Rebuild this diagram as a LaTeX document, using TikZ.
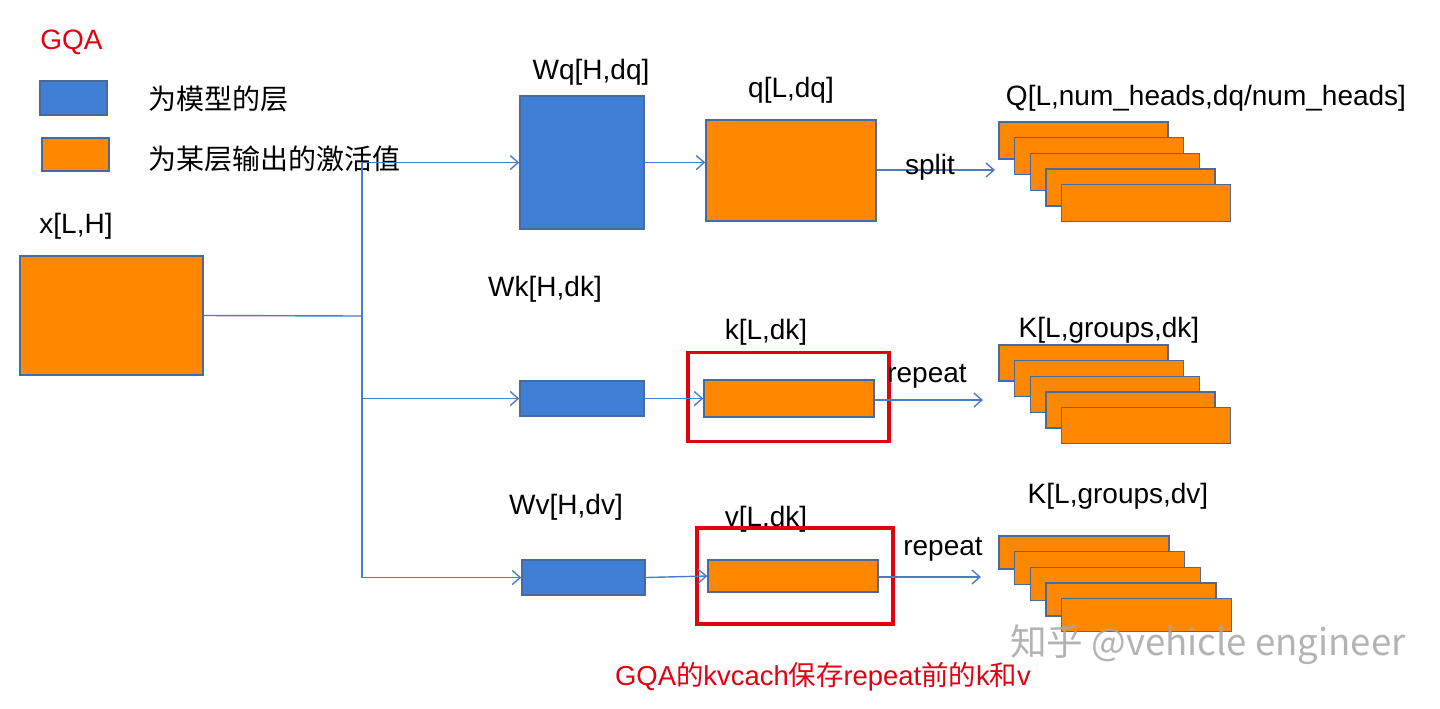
\documentclass[tikz,border=0pt]{standalone}
\usepackage{fontspec}
\setmainfont{Liberation Sans}
\newfontfamily\cjk{Noto Sans CJK SC}
\usetikzlibrary{arrows.meta}
\definecolor{actorange}{HTML}{FF8800}
\definecolor{layerblue}{HTML}{3F7FD6}
\definecolor{edgeblue}{HTML}{4A6A9E}
\definecolor{linkblue}{HTML}{4A7DC9}
\definecolor{markred}{HTML}{E3000F}

\begin{document}
\begin{tikzpicture}[x=0.5pt,y=-0.5pt,
		txt/.style={inner sep=0pt,yshift=-1pt,font=\fontsize{14}{16}\selectfont},
		layer/.style={draw=edgeblue,fill=layerblue,line width=0.7pt,inner sep=0pt},
		act/.style={draw=edgeblue,fill=actorange,line width=0.7pt,inner sep=0pt},
		cache/.style={draw=markred,line width=1.6pt,inner sep=0pt},
		link/.style={draw=linkblue,line width=0.7pt},
		flow/.style={link,-{Straight Barb[length=4pt,width=7pt]}}]
		\useasboundingbox (0,0) rectangle (1440,708);
		
		% legend
		\node[txt,anchor=west,text=markred] (title) at (40,40) {GQA};
		\node[layer,minimum width=33.5pt,minimum height=17pt] (keylayer) at (73.5,98) {};
		\node[act,minimum width=33.5pt,minimum height=16.5pt] (keyact) at (75.5,154.5) {};
		\node[txt,anchor=west] (keylayertxt) at (148,97) {\cjk 为模型的层};
		\node[txt,anchor=west] (keyacttxt) at (148,157) {\cjk 为某层输出的激活值};
		
		% input and weights
		\node[act,minimum width=91.5pt,minimum height=59.5pt] (x) at (111.5,315.5) {};
		\node[txt] (xlab) at (76,224) {x[L,H]};
		\node[layer,minimum width=62pt,minimum height=66.5pt] (Wq) at (582,162.5) {};
		\node[txt] (Wqlab) at (591,70) {Wq[H,dq]};
		\node[layer,minimum width=62pt,minimum height=17.5pt] (Wk) at (582,398.5) {};
		\node[txt] (Wklab) at (545,287) {Wk[H,dk]};
		\node[layer,minimum width=61.5pt,minimum height=17.5pt] (Wv) at (583.5,577.5) {};
		\node[txt] (Wvlab) at (566,505) {Wv[H,dv]};
		
		% projections
		\node[act,minimum width=85pt,minimum height=50.5pt] (q) at (791,170.5) {};
		\node[txt] (qlab) at (791,88) {q[L,dq]};
		\node[act,minimum width=85pt,minimum height=18.5pt] (k) at (789,398.5) {};
		\node[txt] (klab) at (766,330) {k[L,dk]};
		\node[act,minimum width=85pt,minimum height=16pt] (v) at (793,576) {};
		\node[txt] (vlab) at (766,517) {v[L,dk]};
		\node[cache,minimum width=100.5pt,minimum height=44.5pt] (kbox) at (788.5,397.2) {};
		\node[cache,minimum width=98pt,minimum height=48pt] (vbox) at (795,576) {};
		
		% heads
		\foreach \i in {0,...,4}{
			\node[act,minimum width=84.5pt,minimum height=18.5pt] (Q\i) at ({1083.5+15.6*\i},{140.5+15.6*\i}) {};
			\node[act,minimum width=84.5pt,minimum height=18pt] (K\i) at ({1083.5+15.6*\i},{363+15.6*\i}) {};
			\node[act,minimum width=85pt,minimum height=16.5pt] (V\i) at ({1084+15.6*\i},{552.5+15.6*\i}) {};
		}
		\node[txt] (Qlab) at (1206,96) {Q[L,num\_heads,dq/num\_heads]};
		\node[txt] (Klab) at (1109,328) {K[L,groups,dk]};
		\node[txt] (Vlab) at (1118,494) {K[L,groups,dv]};
		
		% connectors
		\coordinate (fork) at (362,316);
		\coordinate (qend) at (995,170);
		\coordinate (kend) at (983,400);
		\coordinate (vend) at (981,577);
		\draw[link] (x.east) -- (fork);
		\draw[flow] (fork) |- (Wq.west);
		\draw[flow] (fork) |- (Wk.west);
		\draw[flow] (fork) |- (Wv.west);
		\draw[flow] (Wq.east) -- (Wq.east -| q.west);
		\draw[flow] (Wk.east) -- (k.west);
		\draw[flow] (Wv.east) -- (v.west);
		\draw[flow] (q.east |- qend) -- (qend);
		\draw[flow] (k.east |- kend) -- (kend);
		\draw[flow] (v.east |- vend) -- (vend);
		\node[txt] (splitlab) at (930,165) {split};
		\node[txt] (krep) at (927,374) {repeat};
		\node[txt] (vrep) at (943,547) {repeat};
		
		% notes
		\node[txt,text=markred,font=\fontsize{13.7}{16}\selectfont] (note) at (823,675) {GQA{\cjk 的}kvcach{\cjk 保存}repeat{\cjk 前的}k{\cjk 和}v};
		\node[inner sep=0pt,text=gray!70,opacity=0.85,font=\cjk\fontsize{18.3}{22}\selectfont] (mark) at (1208,645) {知乎 @vehicle engineer};
\end{tikzpicture}
\end{document}
